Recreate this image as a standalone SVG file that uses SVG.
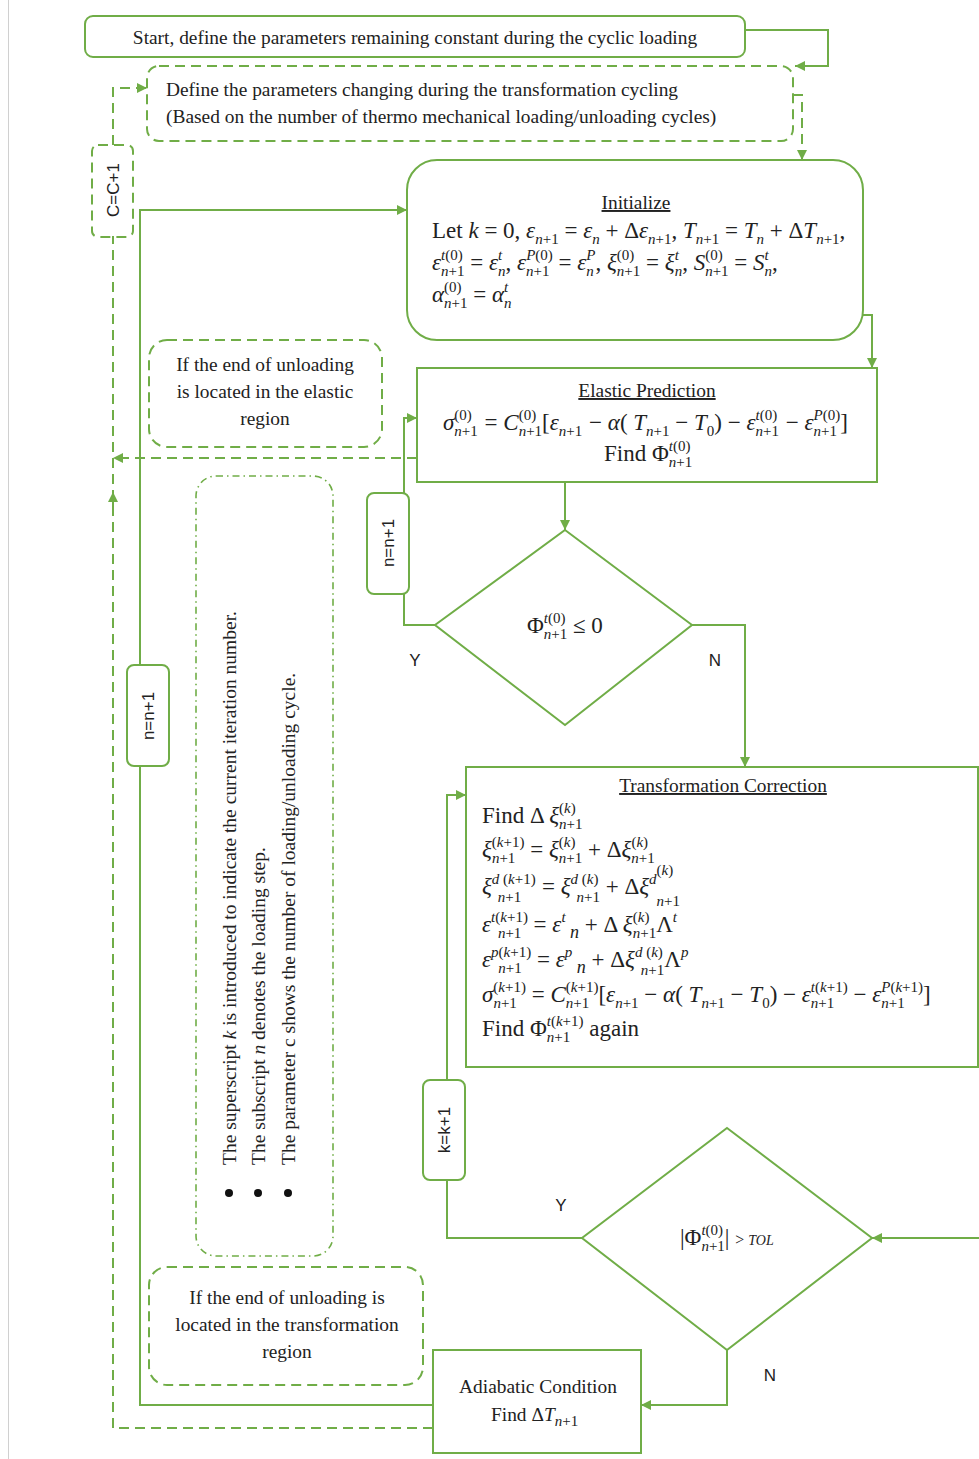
<svg xmlns="http://www.w3.org/2000/svg" width="979" height="1459" viewBox="0 0 979 1459">
<style>
.box{fill:#fff;stroke:#70ad47;stroke-width:2}
.dbox{fill:none;stroke:#70ad47;stroke-width:2;stroke-dasharray:10 6}
.ddbox{fill:none;stroke:#70ad47;stroke-width:1.6;stroke-dasharray:7 4 1.5 4}
.ln{fill:none;stroke:#70ad47;stroke-width:2}
.dln{fill:none;stroke:#70ad47;stroke-width:2;stroke-dasharray:10 6}
.t{font-family:"Liberation Serif","Times New Roman",serif;font-size:19.4px;fill:#222}
.nt{font-family:"Liberation Serif","Times New Roman",serif;font-size:19.5px;fill:#222}
.mt{font-family:"Liberation Serif","Times New Roman",serif;font-size:23px;fill:#222}
.i{font-style:italic}
.s{font-size:15px}
.lab{font-family:"Liberation Sans",Arial,sans-serif;font-size:17px;fill:#222}
</style>
<defs>
<marker id="ah" viewBox="0 0 10 10" refX="10" refY="5" markerWidth="10" markerHeight="10" markerUnits="userSpaceOnUse" orient="auto"><path d="M0,0 L10,5 L0,10 z" fill="#70ad47"/></marker>
</defs>
<line x1="8.5" y1="0" x2="8.5" y2="1459" stroke="#d0d0d0" stroke-width="1"/>
<g id="connectors">
<path class="ln" d="M745,30 H828 V66 H795" marker-end="url(#ah)"/>
<path class="dln" d="M793,95 H802 V160" marker-end="url(#ah)"/>
<path class="ln" d="M863,315 H872 V368" marker-end="url(#ah)"/>
<path class="ln" d="M565,482 V530" marker-end="url(#ah)"/>
<path class="ln" d="M435,625 H404 V594"/>
<path class="ln" d="M404,493 V418 H417" marker-end="url(#ah)"/>
<path class="ln" d="M692,625 H745 V767" marker-end="url(#ah)"/>
<path class="dln" d="M417,458 H113" marker-end="url(#ah)"/>
<path class="dln" d="M433,1428 H113 V236"/>
<path class="ln" d="M113,508 V492" marker-end="url(#ah)"/>
<path class="dln" d="M113,145 V88 H147" marker-end="url(#ah)"/>
<path class="ln" d="M433,1405 H140 V210 H407" marker-end="url(#ah)"/>
<path class="ln" d="M582,1238 H447 V1180"/>
<path class="ln" d="M447,1080 V795 H466" marker-end="url(#ah)"/>
<path class="ln" d="M727,1350 V1405 H641" marker-end="url(#ah)"/>
<path class="ln" d="M979,1238 H872" marker-end="url(#ah)"/>
<text class="lab" x="415" y="666" text-anchor="middle">Y</text>
<text class="lab" x="715" y="666" text-anchor="middle">N</text>
<text class="lab" x="561" y="1211" text-anchor="middle">Y</text>
<text class="lab" x="770" y="1381" text-anchor="middle">N</text>
</g>
<g id="start">
<rect class="box" x="85" y="16" width="660" height="41" rx="8"/>
<text class="t" x="415" y="44" text-anchor="middle">Start, define the parameters remaining constant during the cyclic loading</text>
</g>
<g id="define">
<rect class="dbox" x="147" y="66" width="646" height="75" rx="12"/>
<text class="t" x="166" y="96">Define the parameters changing during the transformation cycling</text>
<text class="t" x="166" y="123">(Based on the number of thermo mechanical loading/unloading cycles)</text>
</g>
<g id="ccounter">
<rect class="dbox" x="92" y="145" width="41" height="92" rx="6" fill="#fff"/>
<text class="lab" transform="translate(113,190) rotate(-90)" text-anchor="middle" dominant-baseline="central">C=C+1</text>
</g>
<g id="initialize">
<rect class="box" x="407" y="160" width="456" height="180" rx="30"/>
<text class="t" x="636" y="209" text-anchor="middle" text-decoration="underline">Initialize</text>
<text class="mt" x="432" y="238" font-size="22">Let <tspan class="i">k</tspan> = 0, <tspan class="i">ε</tspan><tspan class="s" dy="6"><tspan class="i">n</tspan>+1</tspan><tspan dy="-6"> = </tspan><tspan class="i">ε</tspan><tspan class="s i" dy="6">n</tspan><tspan dy="-6"> + Δ</tspan><tspan class="i">ε</tspan><tspan class="s" dy="6"><tspan class="i">n</tspan>+1</tspan><tspan dy="-6">, </tspan><tspan class="i">T</tspan><tspan class="s" dy="6"><tspan class="i">n</tspan>+1</tspan><tspan dy="-6"> = </tspan><tspan class="i">T</tspan><tspan class="s i" dy="6">n</tspan><tspan dy="-6"> + Δ</tspan><tspan class="i">T</tspan><tspan class="s" dy="6"><tspan class="i">n</tspan>+1</tspan><tspan dy="-6">,</tspan></text>
<text class="mt" x="432" y="270"><tspan class="i">ε</tspan><tspan class="s" dy="-10"><tspan class="i">t</tspan>(0)</tspan><tspan class="s" dx="-21.7" dy="16"><tspan class="i">n</tspan>+1</tspan><tspan dy="-6"> = </tspan><tspan class="i">ε</tspan><tspan class="s i" dy="-10">t</tspan><tspan class="s i" dx="-4.2" dy="16">n</tspan><tspan dy="-6">, </tspan><tspan class="i">ε</tspan><tspan class="s" dy="-10"><tspan class="i">P</tspan>(0)</tspan><tspan class="s" dx="-26.7" dy="16"><tspan class="i">n</tspan>+1</tspan><tspan dy="-6" dx="3.2"> = </tspan><tspan class="i">ε</tspan><tspan class="s i" dy="-10">P</tspan><tspan class="s i" dx="-9.2" dy="16">n</tspan><tspan dy="-6" dx="1.7">, </tspan><tspan class="i">ξ</tspan><tspan class="s" dy="-10">(0)</tspan><tspan class="s" dx="-17.5" dy="16"><tspan class="i">n</tspan>+1</tspan><tspan dy="-6"> = </tspan><tspan class="i">ξ</tspan><tspan class="s i" dy="-10">t</tspan><tspan class="s i" dx="-4.2" dy="16">n</tspan><tspan dy="-6">, </tspan><tspan class="i">S</tspan><tspan class="s" dy="-10">(0)</tspan><tspan class="s" dx="-17.5" dy="16"><tspan class="i">n</tspan>+1</tspan><tspan dy="-6"> = </tspan><tspan class="i">S</tspan><tspan class="s i" dy="-10">t</tspan><tspan class="s i" dx="-4.2" dy="16">n</tspan><tspan dy="-6">,</tspan></text>
<text class="mt" x="432" y="302"><tspan class="i">α</tspan><tspan class="s" dy="-10">(0)</tspan><tspan class="s" dx="-17.5" dy="16"><tspan class="i">n</tspan>+1</tspan><tspan dy="-6"> = </tspan><tspan class="i">α</tspan><tspan class="s i" dy="-10">t</tspan><tspan class="s i" dx="-4.2" dy="16">n</tspan></text>
</g>
<g id="elastic-note">
<rect class="dbox" x="149" y="340" width="233" height="107" rx="18"/>
<text class="t" x="265" y="371" text-anchor="middle">If the end of unloading</text>
<text class="t" x="265" y="398" text-anchor="middle">is located in the elastic</text>
<text class="t" x="265" y="425" text-anchor="middle">region</text>
</g>
<g id="elastic">
<rect class="box" x="417" y="368" width="460" height="114"/>
<text class="t" x="647" y="397" text-anchor="middle" text-decoration="underline">Elastic Prediction</text>
<text class="mt" x="443" y="430"><tspan class="i">σ</tspan><tspan class="s" dy="-10">(0)</tspan><tspan class="s" dx="-17.5" dy="16"><tspan class="i">n</tspan>+1</tspan><tspan dy="-6" dx="1"> = </tspan><tspan class="i">C</tspan><tspan class="s" dy="-10">(0)</tspan><tspan class="s" dx="-17.5" dy="16"><tspan class="i">n</tspan>+1</tspan><tspan dy="-6">[</tspan><tspan class="i">ε</tspan><tspan class="s" dy="6"><tspan class="i">n</tspan>+1</tspan><tspan dy="-6" dx="1"> − </tspan><tspan class="i">α</tspan>( <tspan class="i">T</tspan><tspan class="s" dy="6"><tspan class="i">n</tspan>+1</tspan><tspan dy="-6"> −  </tspan><tspan class="i">T</tspan><tspan class="s" dy="6">0</tspan><tspan dy="-6">) − </tspan><tspan class="i">ε</tspan><tspan class="s" dy="-10"><tspan class="i">t</tspan>(0)</tspan><tspan class="s" dx="-21.7" dy="16"><tspan class="i">n</tspan>+1</tspan><tspan dy="-6" dx="1"> − </tspan><tspan class="i">ε</tspan><tspan class="s" dy="-10"><tspan class="i">P</tspan>(0)</tspan><tspan class="s" dx="-26.7" dy="16"><tspan class="i">n</tspan>+1</tspan><tspan dy="-6" dx="3.2">]</tspan></text>
<text class="mt" x="604" y="461">Find Φ<tspan class="s" dy="-10"><tspan class="i">t</tspan>(0)</tspan><tspan class="s" dx="-21.7" dy="16"><tspan class="i">n</tspan>+1</tspan></text>
</g>
<g id="n-counter-right">
<rect class="box" x="367" y="493" width="42" height="101" rx="7"/>
<text class="lab" transform="translate(388,543) rotate(-90)" text-anchor="middle" dominant-baseline="central">n=n+1</text>
</g>
<g id="check-elastic">
<polygon class="box" points="565,530 692,625 565,725 435,625"/>
<text class="mt" x="527" y="633">Φ<tspan class="s" dy="-10"><tspan class="i">t</tspan>(0)</tspan><tspan class="s" dx="-21.7" dy="16"><tspan class="i">n</tspan>+1</tspan><tspan dy="-6"> ≤ 0</tspan></text>
</g>
<g id="notes">
<rect class="ddbox" x="196" y="476" width="137" height="780" rx="20"/>
<text class="nt" transform="translate(236,1165) rotate(-90)">The superscript <tspan class="i">k</tspan> is introduced to indicate the current iteration number.</text>
<text class="nt" transform="translate(265,1165) rotate(-90)">The subscript <tspan class="i">n</tspan> denotes the loading step.</text>
<text class="nt" transform="translate(295,1165) rotate(-90)">The parameter c shows the number of loading/unloading cycle.</text>
<circle cx="229" cy="1193" r="4" fill="#111"/>
<circle cx="258" cy="1193" r="4" fill="#111"/>
<circle cx="288" cy="1193" r="4" fill="#111"/>
</g>
<g id="n-counter-left">
<rect class="box" x="127" y="665" width="42" height="101" rx="7"/>
<text class="lab" transform="translate(148,716) rotate(-90)" text-anchor="middle" dominant-baseline="central">n=n+1</text>
</g>
<g id="transformation">
<rect class="box" x="466" y="767" width="512" height="300"/>
<text class="t" x="723" y="792" text-anchor="middle" text-decoration="underline">Transformation Correction</text>
<text class="mt" x="482" y="823">Find Δ <tspan class="i">ξ</tspan><tspan class="s" dy="-10">(<tspan class="i">k</tspan>)</tspan><tspan class="s" dx="-16.7" dy="16"><tspan class="i">n</tspan>+1</tspan></text>
<text class="mt" x="482" y="857"><tspan class="i">ξ</tspan><tspan class="s" dy="-10">(<tspan class="i">k</tspan>+1)</tspan><tspan class="s" dx="-32.6" dy="16"><tspan class="i">n</tspan>+1</tspan><tspan dy="-6" dx="9.1"> = </tspan><tspan class="i">ξ</tspan><tspan class="s" dy="-10">(<tspan class="i">k</tspan>)</tspan><tspan class="s" dx="-16.7" dy="16"><tspan class="i">n</tspan>+1</tspan><tspan dy="-6"> + Δ</tspan><tspan class="i">ξ</tspan><tspan class="s" dy="-10">(<tspan class="i">k</tspan>)</tspan><tspan class="s" dx="-16.7" dy="16"><tspan class="i">n</tspan>+1</tspan></text>
<text class="mt" x="482" y="894"><tspan class="i">ξ</tspan><tspan class="s" dy="-10"><tspan class="i">d</tspan> (<tspan class="i">k</tspan>+1)</tspan><tspan class="s" dx="-38" dy="18"><tspan class="i">n</tspan>+1</tspan><tspan dy="-8" dx="15"> = </tspan><tspan class="i">ξ</tspan><tspan class="s" dy="-10"><tspan class="i">d</tspan> (<tspan class="i">k</tspan>)</tspan><tspan class="s" dx="-22" dy="18"><tspan class="i">n</tspan>+1</tspan><tspan dy="-8"> + Δ</tspan><tspan class="i">ξ</tspan><tspan class="s i" dy="-10">d</tspan><tspan class="s" dy="-9">(<tspan class="i">k</tspan>)</tspan><tspan class="s" dx="-16.7" dy="31"><tspan class="i">n</tspan>+1</tspan></text>
<text class="mt" x="482" y="932"><tspan class="i">ε</tspan><tspan class="s" dy="-10"><tspan class="i">t</tspan>(<tspan class="i">k</tspan>+1)</tspan><tspan class="s" dx="-30" dy="16"><tspan class="i">n</tspan>+1</tspan><tspan dy="-6" dx="6.5"> = </tspan><tspan class="i">ε</tspan><tspan class="s i" dy="-10">t</tspan><tspan class="i" dy="16" font-size="18"> n</tspan><tspan dy="-6"> + Δ </tspan><tspan class="i">ξ</tspan><tspan class="s" dy="-10">(<tspan class="i">k</tspan>)</tspan><tspan class="s" dx="-16.7" dy="16"><tspan class="i">n</tspan>+1</tspan><tspan dy="-6">Λ</tspan><tspan class="s i" dy="-10">t</tspan></text>
<text class="mt" x="482" y="967"><tspan class="i">ε</tspan><tspan class="s" dy="-10"><tspan class="i">p</tspan>(<tspan class="i">k</tspan>+1)</tspan><tspan class="s" dx="-33" dy="16"><tspan class="i">n</tspan>+1</tspan><tspan dy="-6" dx="9.5"> = </tspan><tspan class="i">ε</tspan><tspan class="s i" dy="-10">p</tspan><tspan class="i" dy="16" font-size="18"> n</tspan><tspan dy="-6"> + Δ</tspan><tspan class="i">ξ</tspan><tspan class="s" dy="-10"><tspan class="i">d</tspan> (<tspan class="i">k</tspan>)</tspan><tspan class="s" dx="-22" dy="18"><tspan class="i">n</tspan>+1</tspan><tspan dy="-8">Λ</tspan><tspan class="s i" dy="-10">p</tspan></text>
<text class="mt" x="482" y="1002"><tspan class="i">σ</tspan><tspan class="s" dy="-10">(<tspan class="i">k</tspan>+1)</tspan><tspan class="s" dx="-32.6" dy="16"><tspan class="i">n</tspan>+1</tspan><tspan dy="-6" dx="9.1"> = </tspan><tspan class="i">C</tspan><tspan class="s" dy="-10">(<tspan class="i">k</tspan>+1)</tspan><tspan class="s" dx="-32.6" dy="16"><tspan class="i">n</tspan>+1</tspan><tspan dy="-6" dx="9.1">[</tspan><tspan class="i">ε</tspan><tspan class="s" dy="6"><tspan class="i">n</tspan>+1</tspan><tspan dy="-6"> − </tspan><tspan class="i">α</tspan>( <tspan class="i">T</tspan><tspan class="s" dy="6"><tspan class="i">n</tspan>+1</tspan><tspan dy="-6"> −  </tspan><tspan class="i">T</tspan><tspan class="s" dy="6">0</tspan><tspan dy="-6">) − </tspan><tspan class="i">ε</tspan><tspan class="s" dy="-10"><tspan class="i">t</tspan>(<tspan class="i">k</tspan>+1)</tspan><tspan class="s" dx="-36.8" dy="16"><tspan class="i">n</tspan>+1</tspan><tspan dy="-6" dx="13.3"> − </tspan><tspan class="i">ε</tspan><tspan class="s" dy="-10"><tspan class="i">P</tspan>(<tspan class="i">k</tspan>+1)</tspan><tspan class="s" dx="-41.8" dy="16"><tspan class="i">n</tspan>+1</tspan><tspan dy="-6" dx="18.3">]</tspan></text>
<text class="mt" x="482" y="1036">Find Φ<tspan class="s" dy="-10"><tspan class="i">t</tspan>(<tspan class="i">k</tspan>+1)</tspan><tspan class="s" dx="-36.8" dy="16"><tspan class="i">n</tspan>+1</tspan><tspan dy="-6" dx="13.3"> again</tspan></text>
</g>
<g id="k-counter">
<rect class="box" x="423" y="1080" width="42" height="100" rx="7"/>
<text class="lab" transform="translate(444,1130) rotate(-90)" text-anchor="middle" dominant-baseline="central">k=k+1</text>
</g>
<g id="check-tol">
<polygon class="box" points="727,1128 872,1238 727,1350 582,1238"/>
<text class="mt" x="680" y="1245">|Φ<tspan class="s" dy="-10"><tspan class="i">t</tspan>(0)</tspan><tspan class="s" dx="-21.7" dy="16"><tspan class="i">n</tspan>+1</tspan><tspan dy="-6">| </tspan><tspan font-size="16">&gt; </tspan><tspan class="i" font-size="14">TOL</tspan></text>
</g>
<g id="transformation-note">
<rect class="dbox" x="149" y="1267" width="274" height="118" rx="18"/>
<text class="t" x="287" y="1304" text-anchor="middle">If the end of unloading is</text>
<text class="t" x="287" y="1331" text-anchor="middle">located in the transformation</text>
<text class="t" x="287" y="1358" text-anchor="middle">region</text>
</g>
<g id="adiabatic">
<rect class="box" x="433" y="1350" width="208" height="103"/>
<text class="t" x="538" y="1393" text-anchor="middle">Adiabatic Condition</text>
<text class="t" x="491" y="1421">Find Δ<tspan class="i">T</tspan><tspan class="s" dy="5"><tspan class="i">n</tspan>+1</tspan></text>
</g>
</svg>
